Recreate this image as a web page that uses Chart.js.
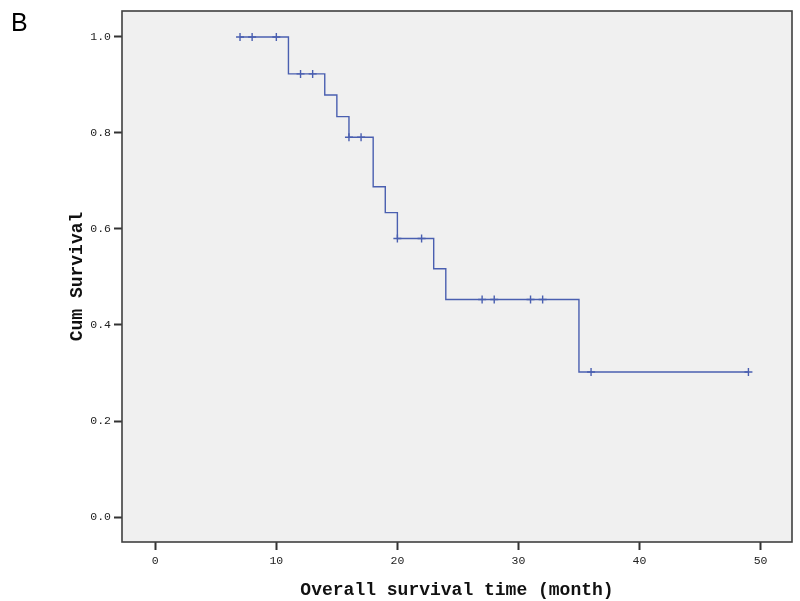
<!DOCTYPE html>
<html>
<head>
<meta charset="utf-8">
<script src="https://cdn.jsdelivr.net/npm/chart.js@4.4.0/dist/chart.umd.min.js"></script>
<style>
  html, body { margin: 0; padding: 0; background: #fff; }
  #wrap { width: 800px; height: 601px; }
</style>
</head>
<body>
<div id="wrap"><canvas id="kmChart" width="800" height="601"></canvas></div>
<script>
// ------------------------------------
// Data
// ------------------------------------
const eventTimes = [7, 11, 14, 15, 16, 18, 19, 20, 23, 24, 35, 49];
const survivalAtEvent = [1.0, 0.923, 0.879, 0.834, 0.791, 0.688, 0.634, 0.580, 0.517, 0.453, 0.302, 0.302];

const censorTimes = [7, 8, 10, 12, 13, 16, 17, 20, 22, 27, 28, 31, 32, 36, 49];
const censorSurvival = [1.0, 1.0, 1.0, 0.923, 0.923, 0.791, 0.791, 0.580, 0.580, 0.453, 0.453, 0.453, 0.453, 0.302, 0.302];

const xTickValues = [0, 10, 20, 30, 40, 50];
const yTickValues = [0.0, 0.2, 0.4, 0.6, 0.8, 1.0];

const lineColor = '#4a5fb0';

// plot background + frame + panel letter
const framePlugin = {
    id: 'frame',
    beforeDraw(chart) {
        const { ctx, chartArea: a } = chart;
        ctx.save();
        ctx.fillStyle = '#f0f0f0';
        ctx.fillRect(a.left, a.top, a.right - a.left, a.bottom - a.top);
        ctx.restore();
    },
    afterDraw(chart) {
        const { ctx, chartArea: a } = chart;
        ctx.save();
        ctx.strokeStyle = '#404040';
        ctx.lineWidth = 1.6;
        ctx.strokeRect(a.left, a.top, a.right - a.left, a.bottom - a.top);
        ctx.fillStyle = '#000';
        ctx.font = '25px "Liberation Sans", Arial, sans-serif';
        ctx.textBaseline = 'alphabetic';
        ctx.fillText('B', 11, 31);
        ctx.restore();
    }
};

function initChart() {
    const ctx = document.getElementById('kmChart').getContext('2d');
    new Chart(ctx, {
        type: 'scatter',
        data: {
            datasets: [
                {
                    type: 'line',
                    label: 'Survival',
                    data: eventTimes.map((t, i) => ({ x: t, y: survivalAtEvent[i] })),
                    stepped: 'before',
                    borderColor: lineColor,
                    borderWidth: 1.4,
                    pointRadius: 0,
                    fill: false
                },
                {
                    label: 'Censored',
                    data: censorTimes.map((t, i) => ({ x: t, y: censorSurvival[i] })),
                    pointStyle: 'cross',
                    pointRadius: 4,
                    borderColor: lineColor,
                    borderWidth: 1.4,
                    backgroundColor: lineColor
                }
            ]
        },
        options: {
            responsive: false,
            animation: false,
            events: [],
            layout: { padding: { left: 0, top: 11, right: 8, bottom: 0 } },
            plugins: {
                legend: { display: false },
                tooltip: { enabled: false },
                title: { display: false }
            },
            scales: {
                x: {
                    type: 'linear',
                    min: -2.75,
                    max: 52.6,
                    afterFit: s => { s.height = 59; },
                    afterBuildTicks: s => { s.ticks = xTickValues.map(v => ({ value: v })); },
                    border: { display: false },
                    grid: {
                        drawOnChartArea: false,
                        drawTicks: true,
                        tickLength: 8,
                        tickWidth: 2,
                        tickColor: '#333'
                    },
                    ticks: {
                        padding: 4,
                        color: '#222',
                        font: { family: '"Liberation Mono", monospace', size: 11.5 }
                    },
                    title: {
                        display: true,
                        text: 'Overall survival time (month)',
                        color: '#111',
                        padding: { top: 10, bottom: 0 },
                        font: { family: '"Liberation Mono", monospace', size: 18, weight: 'bold' }
                    }
                },
                y: {
                    type: 'linear',
                    min: -0.052,
                    max: 1.054,
                    afterFit: s => { s.width = 122; },
                    afterBuildTicks: s => { s.ticks = yTickValues.map(v => ({ value: v })); },
                    border: { display: false },
                    grid: {
                        drawOnChartArea: false,
                        drawTicks: true,
                        tickLength: 8,
                        tickWidth: 2,
                        tickColor: '#333'
                    },
                    ticks: {
                        padding: 3,
                        color: '#222',
                        font: { family: '"Liberation Mono", monospace', size: 11.5 },
                        callback: v => Number(v).toFixed(1)
                    },
                    title: {
                        display: true,
                        text: 'Cum Survival',
                        color: '#111',
                        padding: { top: 67, bottom: 0 },
                        font: { family: '"Liberation Mono", monospace', size: 18, weight: 'bold' }
                    }
                }
            }
        },
        plugins: [framePlugin]
    });
}

window.onload = function() {
    initChart();
};
</script>
</body>
</html>
